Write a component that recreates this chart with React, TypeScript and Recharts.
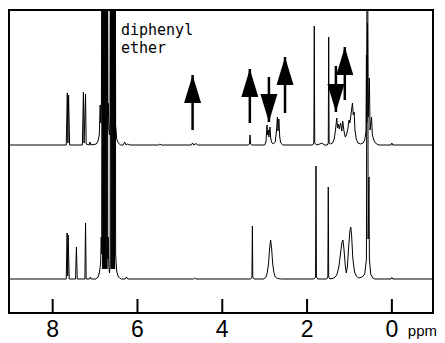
import { LineChart, Line, XAxis, YAxis, ReferenceArea, ReferenceLine, ReferenceDot } from "recharts";

// chemical shift (ppm), intensity above each trace's own baseline
const upperTrace: [number, number][] = [
  [9.1, 0], [8.4, 0], [7.68, 0],
  [7.655, 52], [7.64, 2], [7.625, 50], [7.6, 0],
  [7.3, 0], [7.275, 53], [7.26, 2], [7.225, 51], [7.21, 1],
  [7.14, 0], [7.12, 3], [7.1, 0],
  [6.97, 1], [6.93, 4], [6.9, 10], [6.88, 40], [6.865, 22], [6.85, 43],
  [6.83, 400], [6.82, 45], [6.81, 400], [6.8, 45], [6.79, 400], [6.78, 45], [6.77, 400],
  [6.76, 45], [6.75, 400], [6.74, 45], [6.73, 400], [6.72, 45], [6.71, 400],
  [6.7, 30], [6.69, 42], [6.675, 15], [6.66, 10], [6.645, 25],
  [6.63, 400], [6.62, 45], [6.61, 400], [6.6, 45], [6.59, 400], [6.58, 45], [6.57, 400],
  [6.56, 45], [6.55, 400], [6.54, 45], [6.53, 400],
  [6.515, 20], [6.49, 6], [6.45, 2], [6.4, 0], [6.34, 0], [6.3, 3], [6.27, 0], [6.23, 1], [6.18, 0],
  [5.5, 0], [5.47, 1], [5.44, 0],
  [4.73, 0], [4.7, 2], [4.67, 0], [4.62, 1.5], [4.58, 0],
  [3.38, 0], [3.36, 1], [3.345, 10], [3.33, 1], [3.3, 0],
  [3.0, 0], [2.97, 3], [2.945, 20], [2.93, 10], [2.915, 15], [2.9, 8], [2.875, 18], [2.86, 8], [2.84, 3], [2.8, 1],
  [2.75, 3], [2.72, 15], [2.7, 28], [2.685, 14], [2.665, 26], [2.645, 8], [2.62, 2], [2.57, 0],
  [1.87, 0], [1.84, 2], [1.83, 119], [1.82, 2], [1.78, 0], [1.7, 1], [1.64, 2], [1.6, 0],
  [1.52, 0], [1.5, 2], [1.49, 108], [1.48, 2], [1.45, 1],
  [1.4, 2], [1.36, 6], [1.33, 15], [1.3, 27], [1.28, 17], [1.26, 21], [1.24, 16], [1.21, 22],
  [1.18, 14], [1.16, 24], [1.13, 14], [1.1, 8], [1.07, 10], [1.04, 16], [1.01, 25], [0.99, 22],
  [0.96, 32], [0.93, 42], [0.91, 30], [0.89, 33], [0.87, 15], [0.84, 6], [0.8, 2], [0.74, 1], [0.68, 2],
  [0.64, 5], [0.61, 14], [0.6, 90], [0.59, 22], [0.575, 122], [0.56, 28], [0.53, 67], [0.515, 15],
  [0.48, 28], [0.46, 10], [0.42, 4], [0.36, 1], [0.3, 0],
  [0.02, 0], [0.0, 2], [-0.02, 0], [-1.1, 0],
];

const lowerTrace: [number, number][] = [
  [9.1, 0], [7.68, 0],
  [7.66, 46], [7.645, 3], [7.635, 44], [7.61, 0],
  [7.46, 0], [7.44, 32], [7.42, 0],
  [7.24, 0], [7.225, 56], [7.21, 0],
  [7.13, 0], [7.11, 2], [7.09, 0],
  [6.98, 0], [6.93, 2], [6.9, 6], [6.87, 15], [6.855, 42], [6.845, 25],
  [6.83, 600], [6.82, 10], [6.81, 600], [6.8, 10], [6.79, 600], [6.78, 10], [6.77, 600],
  [6.76, 10], [6.75, 600], [6.74, 10], [6.73, 600], [6.72, 10], [6.71, 600],
  [6.7, 20], [6.69, 42], [6.675, 12], [6.66, 6], [6.645, 14],
  [6.63, 600], [6.62, 10], [6.61, 600], [6.6, 10], [6.59, 600], [6.58, 10], [6.57, 600],
  [6.56, 10], [6.55, 600], [6.54, 10], [6.53, 600],
  [6.515, 25], [6.49, 8], [6.46, 3], [6.42, 1], [6.38, 0],
  [6.29, 0], [6.26, 2], [6.23, 0],
  [4.68, 0], [4.65, 1], [4.62, 0],
  [3.33, 0], [3.3, 2], [3.29, 53], [3.28, 2], [3.25, 0],
  [3.02, 0], [2.97, 2], [2.94, 6], [2.91, 15], [2.885, 30], [2.86, 39], [2.835, 30], [2.81, 15],
  [2.78, 6], [2.75, 2], [2.7, 0.5], [2.6, 0],
  [1.84, 0], [1.8, 2], [1.79, 113], [1.78, 2], [1.75, 0],
  [1.54, 0], [1.51, 2], [1.5, 92], [1.49, 2], [1.46, 0],
  [1.36, 1], [1.3, 4], [1.25, 12], [1.21, 26], [1.18, 36], [1.155, 39], [1.13, 30], [1.1, 14],
  [1.075, 6], [1.05, 12], [1.02, 32], [0.99, 48], [0.97, 52], [0.95, 44], [0.92, 20], [0.88, 7],
  [0.84, 3], [0.78, 1], [0.7, 2],
  [0.64, 5], [0.6, 20], [0.575, 600], [0.56, 40], [0.54, 102], [0.53, 20], [0.5, 5], [0.45, 1], [0.4, 0],
  [0.02, 0], [0.0, 1.5], [-0.02, 0], [-1.1, 0],
];

// arrows: shift, tail and tip level (tip above tail = up arrow)
const arrowPpm = [4.7, 3.35, 2.9, 2.52, 1.32, 1.11];
const arrowTail = [183, 190, 236, 200, 247, 213];
const arrowTip = [238, 244, 191, 256, 201, 266];

const xTicks = [8, 6, 4, 2, 0];

const X_MIN = -0.97;
const X_MAX = 9.03;
const Y_MAX = 303;
const UPPER_BASE = 168;
const LOWER_BASE = 34;

const upperData = upperTrace.map(([x, y]) => ({ x, y: y + UPPER_BASE }));
const lowerData = lowerTrace.map(([x, y]) => ({ x, y: y + LOWER_BASE }));

const FONT = "'Liberation Sans', Arial, Helvetica, sans-serif";

function PpmTick({ x, y, payload }: any) {
  const v = payload.value;
  return (
    <g>
      <line x1={x} x2={x} y1={y - 14} y2={y} stroke="#000" strokeWidth={2} />
      <text x={x} y={y + 24} textAnchor="middle" fontFamily={FONT} fontSize={23} fill="#000">
        {v}
      </text>
      {v === 0 && (
        <text x={x + 16} y={y + 23} fontFamily={FONT} fontSize={15} fill="#000">
          ppm
        </text>
      )}
    </g>
  );
}

const headShape = (up: boolean) => ({ cx, cy }: any) => {
  const b = up ? cy + 28 : cy - 28;
  return <path d={`M${cx},${cy} L${cx - 8.5},${b} L${cx + 8.5},${b} Z`} fill="#000" />;
};

const labelShape = ({ cx, cy }: any) => (
  <text x={cx} y={cy} fontFamily="'DejaVu Sans Mono', monospace" fontSize={15} fill="#000">
    <tspan x={cx}>diphenyl</tspan>
    <tspan x={cx} dy={18}>ether</tspan>
  </text>
);

export default function App() {
  return (
    <div style={{ position: "absolute", left: 0, top: 0, width: 445, height: 343, background: "#fff" }}>
      <LineChart width={445} height={343} margin={{ top: 10, right: 12, bottom: 0, left: 9 }}>
        <XAxis
          dataKey="x"
          type="number"
          domain={[X_MIN, X_MAX]}
          reversed
          allowDataOverflow
          ticks={xTicks}
          interval={0}
          tick={<PpmTick />}
          tickLine={false}
          axisLine={false}
          tickSize={0}
          tickMargin={0}
          height={30}
        />
        <YAxis type="number" domain={[0, Y_MAX]} allowDataOverflow hide />
        <Line data={lowerData} dataKey="y" type="linear" stroke="#000" strokeWidth={1} dot={false} isAnimationActive={false} />
        <Line data={upperData} dataKey="y" type="linear" stroke="#000" strokeWidth={1} dot={false} isAnimationActive={false} />
        {arrowPpm.map((p, i) => (
          <ReferenceLine
            key={`s${i}`}
            segment={[{ x: p, y: arrowTail[i] }, { x: p, y: arrowTip[i] }]}
            stroke="#000"
            strokeWidth={2.5}
          />
        ))}
        {arrowPpm.map((p, i) => (
          <ReferenceDot key={`h${i}`} x={p} y={arrowTip[i]} r={1} shape={headShape(arrowTip[i] > arrowTail[i])} />
        ))}
        <ReferenceDot x={6.39} y={278} r={1} shape={labelShape} />
        <ReferenceArea x1={X_MIN} x2={X_MAX} y1={0} y2={Y_MAX} fill="none" stroke="#000" strokeWidth={2} fillOpacity={0} />
      </LineChart>
    </div>
  );
}
